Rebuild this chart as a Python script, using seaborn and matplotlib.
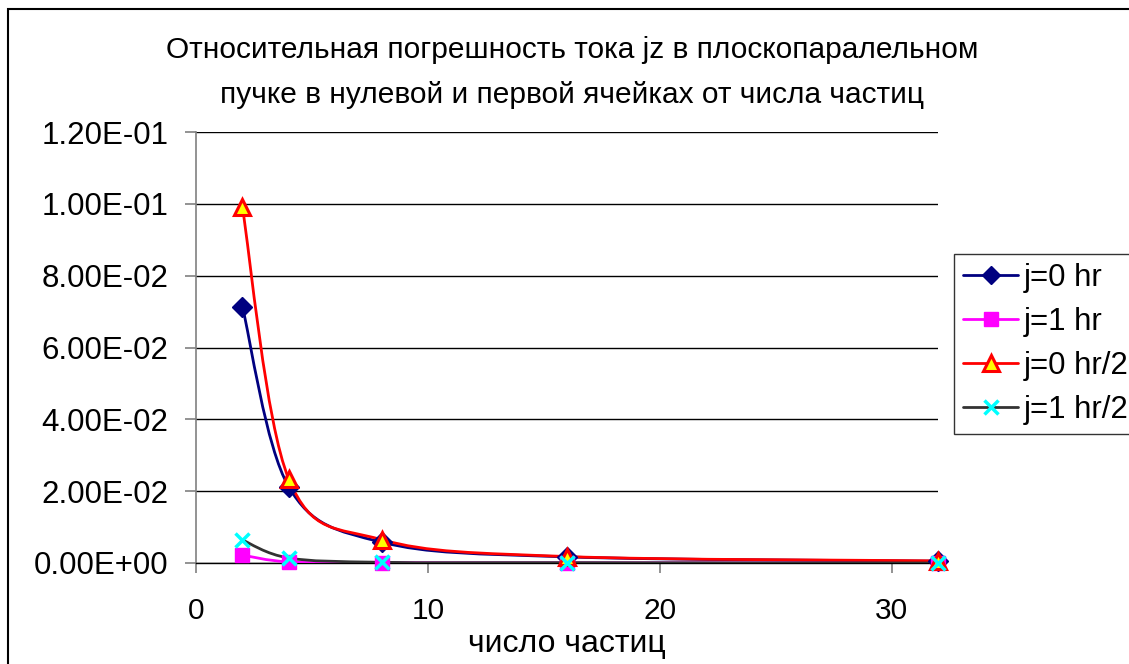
import numpy as np
import pandas as pd
import matplotlib
matplotlib.use("Agg")
import matplotlib.pyplot as plt
from matplotlib.path import Path
from matplotlib.patches import PathPatch, Rectangle
from matplotlib.lines import Line2D
import seaborn as sns

# ---------------- data ----------------
particles = [2, 4, 8, 16, 32]
j0_hr = [0.0714, 0.0212, 0.0058, 0.0017, 0.0005]
j1_hr = [0.0022, 0.0003, 0.0001, 0.00005, 0.0]
j0_hr2 = [0.0990, 0.0234, 0.0065, 0.0018, 0.0006]
j1_hr2 = [0.0064, 0.0014, 0.0002, 0.0001, 0.0]
series_names = ["j=0 hr", "j=1 hr", "j=0 hr/2", "j=1 hr/2"]
y_ticks = [0.0, 0.02, 0.04, 0.06, 0.08, 0.10, 0.12]
y_tick_labels = ["0.00E+00", "2.00E-02", "4.00E-02", "6.00E-02", "8.00E-02", "1.00E-01", "1.20E-01"]
x_ticks = [0, 10, 20, 30]
x_tick_labels = ["0", "10", "20", "30"]
title_lines = ["Относительная погрешность тока jz в плоскопаралельном",
               "пучке в нулевой и первой ячейках от числа частиц"]
x_label = "число частиц"

sns.set_style("white")
plt.rcParams['font.family'] = ['Liberation Sans', 'DejaVu Sans']
plt.rcParams['text.color'] = 'black'
plt.rcParams['axes.labelcolor'] = 'black'
plt.rcParams['xtick.labelcolor'] = 'black'
plt.rcParams['ytick.labelcolor'] = 'black'

fig = plt.figure(figsize=(11.29, 6.64), dpi=100)
ax = fig.add_axes([196 / 1129, 1 - 563 / 664, (938 - 196) / 1129, (563 - 132) / 664])

styles = [
    dict(line="#000080", marker="D", ms=10, mfc="#000080", mec="#000080", mew=1.0),
    dict(line="#FF00FF", marker="s", ms=10, mfc="#FF00FF", mec="#FF00FF", mew=1.0),
    dict(line="#FF0000", marker="^", ms=12, mfc="#FFFF00", mec="#FF0000", mew=2.2),
    dict(line="#333333", marker="x", ms=10, mfc="#00FFFF", mec="#00FFFF", mew=2.5),
]
all_series = [j0_hr, j1_hr, j0_hr2, j1_hr2]


def smooth_path(xs, ys):
    # Excel-style smoothed line: cubic Bezier through the points (Catmull-Rom control points)
    P = np.column_stack([xs, ys]).astype(float)
    n = len(P)
    verts = [P[0]]
    codes = [Path.MOVETO]
    for i in range(n - 1):
        p0 = P[i - 1] if i > 0 else P[i]
        p1 = P[i]
        p2 = P[i + 1]
        p3 = P[i + 2] if i + 2 < n else P[i + 1]
        c1 = p1 + (p2 - p0) / 6.0
        c2 = p2 - (p3 - p1) / 6.0
        verts += [c1, c2, p2]
        codes += [Path.CURVE4] * 3
    return Path(verts, codes)


for vals, st in zip(all_series, styles):
    patch = PathPatch(smooth_path(particles, vals), transform=ax.transData,
                      fill=False, edgecolor=st["line"], linewidth=2.0, zorder=3,
                      capstyle="round", joinstyle="round")
    ax.add_patch(patch)

for name, vals, st in zip(series_names, all_series, styles):
    df = pd.DataFrame({"x": particles, "y": vals})
    sns.lineplot(data=df, x="x", y="y", ax=ax, linestyle="none",
                 marker=st["marker"], markersize=st["ms"],
                 markerfacecolor=st["mfc"], markeredgecolor=st["mec"],
                 markeredgewidth=st["mew"], zorder=4, clip_on=False)

ax.set_xlim(0, 32)
ax.set_ylim(0, 0.12)
ax.set_yticks(y_ticks)
ax.set_yticklabels(y_tick_labels)
ax.set_xticks(x_ticks)
ax.set_xticklabels(x_tick_labels)
ax.set_xlabel(x_label, fontsize=23, labelpad=3, color="black")
ax.set_ylabel("")
ax.tick_params(axis="y", labelsize=22.5, direction="out", length=8, width=1.2,
               color="#808080", labelcolor="black", pad=12, left=True)
ax.tick_params(axis="x", labelsize=21.5, direction="out", length=7.5, width=1.2,
               color="#808080", labelcolor="black", pad=17, bottom=True)
ax.yaxis.grid(True, color="black", linewidth=1.0)
ax.xaxis.grid(False)
ax.set_axisbelow(True)
for s in ["top", "right"]:
    ax.spines[s].set_visible(False)
ax.spines["left"].set_color("#808080")
ax.spines["left"].set_linewidth(1.2)
ax.spines["bottom"].set_color("black")
ax.spines["bottom"].set_linewidth(1.0)
ax.patch.set_alpha(0)

# title
fig.text(572 / 1129, 1 - 58 / 664, title_lines[0], ha="center", va="baseline", fontsize=21.5, color="black")
fig.text(572 / 1129, 1 - 103 / 664, title_lines[1], ha="center", va="baseline", fontsize=21.5, color="black")

# legend
handles = [Line2D([0], [0], color=st["line"], lw=2.0, marker=st["marker"], markersize=st["ms"] * 0.95,
                  markerfacecolor=st["mfc"], markeredgecolor=st["mec"], markeredgewidth=st["mew"])
           for st in styles]
leg = fig.legend(handles, series_names, loc="upper left", bbox_to_anchor=(954 / 1129, 1 - 254 / 664),
                 frameon=True, fancybox=False, fontsize=22.5, handlelength=1.75, handletextpad=0.18,
                 labelspacing=0.44, borderpad=0.3, borderaxespad=0, edgecolor="black",
                 labelcolor="black")
leg.get_frame().set_linewidth(1.0)

# outer chart border
fig.patches.append(Rectangle((8 / 1129, -0.1), 1.5, 0.1 + 1 - 9 / 664, transform=fig.transFigure,
                             fill=False, edgecolor="black", linewidth=1.5))

fig.savefig("out.png", dpi=100)
